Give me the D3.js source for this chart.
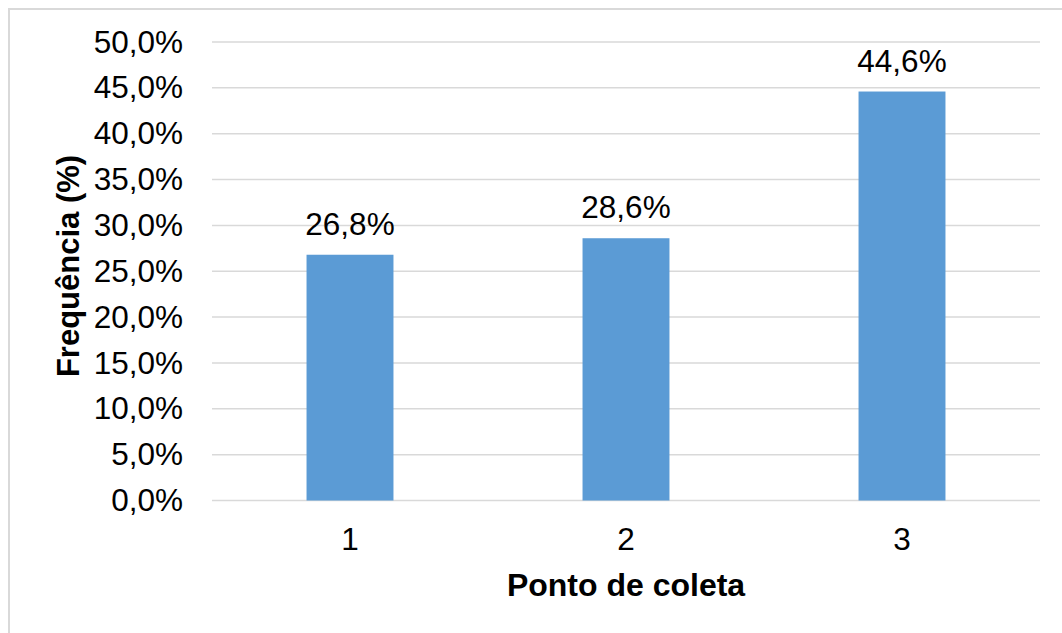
<!DOCTYPE html>
<html>
<head>
<meta charset="utf-8">
<script src="https://cdnjs.cloudflare.com/ajax/libs/d3/7.8.5/d3.min.js"></script>
<style>
  body { margin: 0; background: #fff; }
  text { font-family: "Liberation Sans", Arial, sans-serif; fill: #000; }
  .grid line { stroke: #d9d9d9; stroke-width: 1.5; }
  .bar { fill: #5b9bd5; }
</style>
</head>
<body>
<svg width="1062" height="633"></svg>
<script>
  // dados do gráfico
  const pontos = ['1', '2', '3'];
  const frequencia = [26.8, 28.6, 44.6];
  const ticksY = [0, 5, 10, 15, 20, 25, 30, 35, 40, 45, 50];

  const fmt = v => d3.format('.1f')(v).replace('.', ',') + '%';

  const plotLeft = 212, plotRight = 1040, plotTop = 42, plotBottom = 500.5;

  const svg = d3.select('svg');

  // moldura do gráfico
  svg.append('rect')
    .attr('x', 9).attr('y', 9)
    .attr('width', 1070).attr('height', 640)
    .attr('fill', '#fff')
    .attr('stroke', '#d9d9d9')
    .attr('stroke-width', 2);

  const y = d3.scaleLinear()
    .domain([0, 50])
    .range([plotBottom, plotTop]);

  const x = d3.scaleBand()
    .domain(pontos)
    .range([plotLeft, plotRight])
    .paddingInner(0.685)
    .paddingOuter(0.685 / 2);

  // linhas de grade
  svg.append('g')
    .attr('class', 'grid')
    .selectAll('line')
    .data(ticksY)
    .enter()
    .append('line')
    .attr('x1', plotLeft).attr('x2', plotRight)
    .attr('y1', d => y(d)).attr('y2', d => y(d));

  // eixo y
  const eixoY = svg.append('g')
    .attr('transform', `translate(${plotLeft}, 0)`)
    .call(d3.axisLeft(y).tickValues(ticksY).tickFormat(fmt).tickSize(0).tickPadding(29));
  eixoY.select('.domain').remove();
  eixoY.selectAll('text')
    .attr('font-size', 31.5)
    .attr('font-family', '"Liberation Sans", Arial, sans-serif')
    .attr('fill', '#000');

  // barras
  svg.selectAll('.bar')
    .data(frequencia)
    .enter()
    .append('rect')
    .attr('class', 'bar')
    .attr('x', (d, i) => x(pontos[i]))
    .attr('y', d => y(d))
    .attr('width', x.bandwidth())
    .attr('height', d => y(0) - y(d));

  // rótulos de dados
  svg.selectAll('.rotulo')
    .data(frequencia)
    .enter()
    .append('text')
    .attr('class', 'rotulo')
    .attr('x', (d, i) => x(pontos[i]) + x.bandwidth() / 2)
    .attr('y', d => y(d) - 20)
    .attr('text-anchor', 'middle')
    .attr('font-size', 31.5)
    .text(d => fmt(d));

  // eixo x
  const eixoX = svg.append('g')
    .attr('transform', `translate(0, ${plotBottom})`)
    .call(d3.axisBottom(x).tickSize(0).tickPadding(27));
  eixoX.select('.domain').remove();
  eixoX.selectAll('text')
    .attr('font-size', 31.5)
    .attr('font-family', '"Liberation Sans", Arial, sans-serif')
    .attr('fill', '#000');

  // títulos dos eixos
  svg.append('text')
    .attr('x', (plotLeft + plotRight) / 2)
    .attr('y', 596)
    .attr('text-anchor', 'middle')
    .attr('font-size', 32)
    .attr('font-weight', 'bold')
    .text('Ponto de coleta');

  svg.append('text')
    .attr('transform', `translate(79, 266) rotate(-90)`)
    .attr('text-anchor', 'middle')
    .attr('font-size', 31)
    .attr('font-weight', 'bold')
    .text('Frequência (%)');
</script>
</body>
</html>
